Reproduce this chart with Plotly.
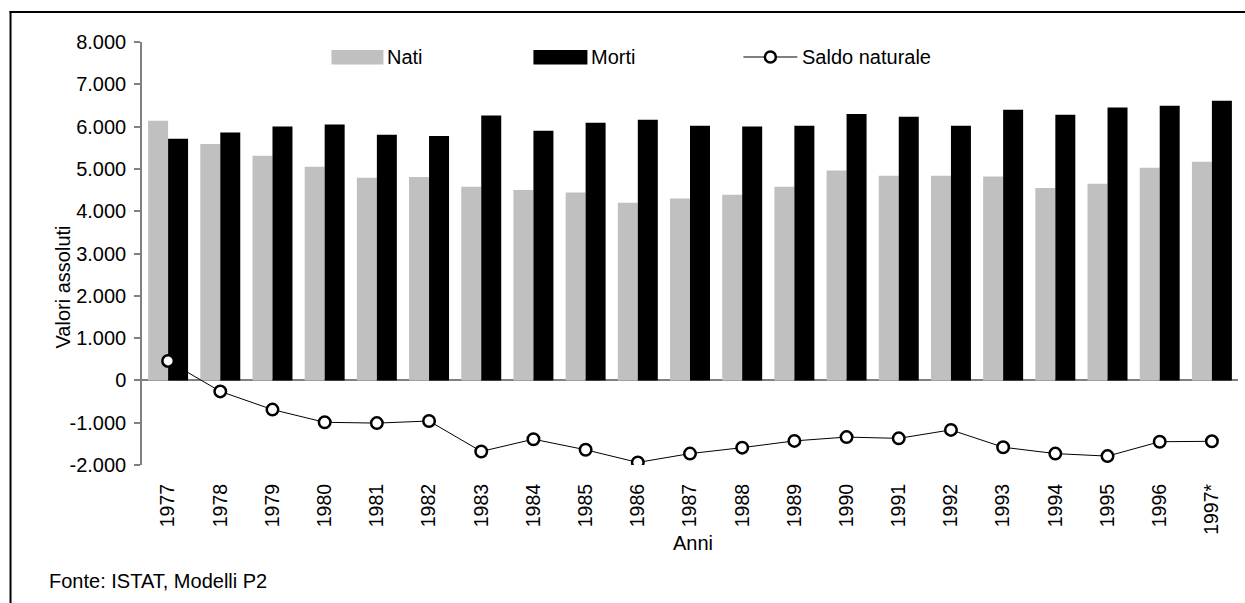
import plotly.graph_objects as go

# ---- data ----
anni = ["1977", "1978", "1979", "1980", "1981", "1982", "1983", "1984", "1985", "1986",
        "1987", "1988", "1989", "1990", "1991", "1992", "1993", "1994", "1995", "1996", "1997*"]
nati = [6140, 5590, 5310, 5050, 4790, 4810, 4580, 4500, 4440, 4200,
        4300, 4390, 4580, 4960, 4840, 4840, 4820, 4550, 4650, 5030, 5170]
morti = [5710, 5860, 6000, 6050, 5810, 5780, 6260, 5900, 6090, 6160,
         6020, 6000, 6020, 6300, 6230, 6020, 6400, 6280, 6450, 6490, 6610]
saldo = [460, -260, -690, -990, -1010, -960, -1680, -1390, -1640, -1940,
         -1730, -1590, -1430, -1340, -1370, -1170, -1580, -1730, -1790, -1450, -1440]
y_tickvals = [-2000, -1000, 0, 1000, 2000, 3000, 4000, 5000, 6000, 7000, 8000]
y_ticktext = ["-2.000", "-1.000", "0", "1.000", "2.000", "3.000", "4.000",
              "5.000", "6.000", "7.000", "8.000"]

OFF = 0  # body margin is removed by post_script
# plot area in screenshot coordinates
SL, SR, ST, SB = 141.5, 1237.7, 42, 465
L, R, T, B = SL - OFF, SR - OFF, ST - OFF, SB - OFF
W, H = 1245 - OFF, 603 - OFF
FONT = "Liberation Sans, Arial, sans-serif"
FS = 20
FSX = 19.5


def px(xs):
    return (xs - SL) / (SR - SL)


def py(ys):
    return (SB - ys) / (SB - ST)


fig = go.Figure()
fig.add_trace(go.Bar(x=anni, y=nati, name="Nati", marker=dict(color="#C0C0C0", line=dict(width=0))))
fig.add_trace(go.Bar(x=anni, y=morti, name="Morti", marker=dict(color="#000000", line=dict(width=0))))
fig.add_trace(go.Scatter(x=anni, y=saldo, name="Saldo naturale", mode="lines+markers",
                         line=dict(color="black", width=1),
                         marker=dict(symbol="circle", size=11.5, color="white",
                                     line=dict(color="black", width=2.5))))

shapes = []
annotations = []
# frame: top and left edges only (right & bottom are outside the picture)
shapes.append(dict(type="line", xref="paper", yref="paper", x0=px(9), x1=px(1250), y0=py(12), y1=py(12),
                   line=dict(color="black", width=2)))
shapes.append(dict(type="line", xref="paper", yref="paper", x0=px(10), x1=px(10), y0=py(11), y1=py(610),
                   line=dict(color="black", width=2)))
# manual legend
shapes.append(dict(type="rect", xref="paper", yref="paper", x0=px(331), x1=px(383), y0=py(50), y1=py(64.5),
                   fillcolor="#C0C0C0", line=dict(width=0)))
shapes.append(dict(type="rect", xref="paper", yref="paper", x0=px(533), x1=px(587), y0=py(50), y1=py(64.5),
                   fillcolor="#000000", line=dict(width=0)))
shapes.append(dict(type="line", xref="paper", yref="paper", x0=px(743), x1=px(797), y0=py(57), y1=py(57),
                   line=dict(color="black", width=1)))
shapes.append(dict(type="circle", xref="paper", yref="paper", x0=px(764.5), x1=px(775.5), y0=py(51.5), y1=py(62.5),
                   fillcolor="white", line=dict(color="black", width=2.5)))
for xx, txt in [(385, "Nati"), (589, "Morti"), (800, "Saldo naturale")]:
    annotations.append(dict(text=txt, xref="paper", yref="paper", x=px(xx), y=py(57),
                            xanchor="left", yanchor="middle", showarrow=False,
                            font=dict(family=FONT, size=FS, color="black")))
# axis titles & source
annotations.append(dict(text="Valori assoluti", xref="paper", yref="paper", x=px(62), y=py(287),
                        textangle=-90, xanchor="center", yanchor="middle", showarrow=False,
                        font=dict(family=FONT, size=FS, color="black")))
annotations.append(dict(text="Anni", xref="paper", yref="paper", x=px(693), y=py(543),
                        xanchor="center", yanchor="middle", showarrow=False,
                        font=dict(family=FONT, size=FS, color="black")))
annotations.append(dict(text="Fonte: ISTAT, Modelli P2", xref="paper", yref="paper", x=px(46), y=py(581),
                        xanchor="left", yanchor="middle", showarrow=False,
                        font=dict(family=FONT, size=FS, color="black")))

fig.update_layout(
    width=W, height=H,
    margin=dict(l=L, r=W - R, t=T, b=H - B, pad=0),
    paper_bgcolor="white", plot_bgcolor="white",
    barmode="group", bargap=0.234, bargroupgap=0,
    showlegend=False,
    font=dict(family=FONT, size=FS, color="black"),
    shapes=shapes, annotations=annotations,
)
fig.update_xaxes(type="category", range=[-0.5, len(anni) - 0.5], autorange=False,
                 showline=False, showgrid=False, ticks="", tickangle=-90,
                 ticklabelstandoff=14, tickfont=dict(family=FONT, size=FSX, color="black"),
                 zeroline=False)
fig.update_yaxes(range=[-2000, 8000], autorange=False, tickvals=y_tickvals, ticktext=y_ticktext,
                 showline=True, linecolor="#808080", linewidth=1.5,
                 ticks="outside", ticklen=6, tickcolor="#808080", tickwidth=1.5,
                 showgrid=False, zeroline=True, zerolinecolor="#808080", zerolinewidth=1.5,
                 ticklabelstandoff=4, tickfont=dict(family=FONT, size=FS, color="black"))

fig.write_html("out.html", config={"displayModeBar": False}, post_script=(
    "document.documentElement.style.margin='0';document.body.style.margin='0';"
    "document.documentElement.style.overflow='hidden';document.body.style.overflow='hidden';"))
